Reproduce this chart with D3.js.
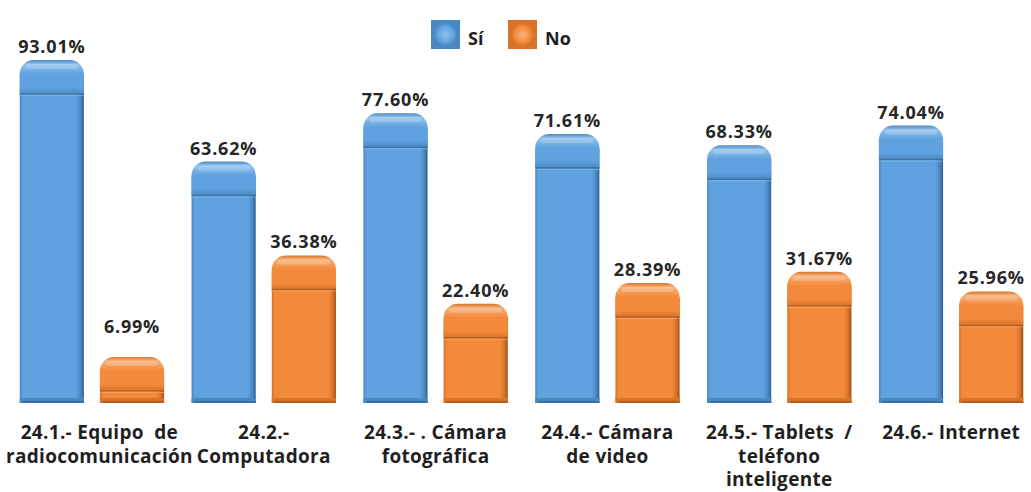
<!DOCTYPE html>
<html>
<head>
<meta charset="utf-8">
<script src="https://cdn.jsdelivr.net/npm/d3@7"></script>
<style>
  body { margin: 0; background: #fff; }
  svg { display: block; font-family: "Open Sans", "Noto Sans", sans-serif; }
</style>
</head>
<body>
<svg id="chart" width="1031" height="492"></svg>
<script>
// categories (each label split into its lines)
var categories = [
	["24.1.- Equipo  de", "radiocomunicación"],
	["24.2.-", "Computadora"],
	["24.3.- . Cámara", "fotográfica"],
	["24.4.- Cámara", "de video"],
	["24.5.- Tablets  /", "teléfono", "inteligente"],
	["24.6.- Internet"]
]
var seriesNames = ["Sí", "No"]
var siValues = [93.01, 63.62, 77.60, 71.61, 68.33, 74.04]
var noValues = [6.99, 36.38, 22.40, 28.39, 31.67, 25.96]

var colors = {
	"Sí": {main: "#5fa2df", light: "#93c3ee", dark: "#2f5f8e", mid: "#4a88c2"},
	"No": {main: "#f38a3b", light: "#f8b27a", dark: "#9a4f15", mid: "#d8732a"}
}

var svg = d3.select("#chart"),
	W = +svg.attr("width"),
	baseline = 403,
	depth = 22,
	capH = 34,
	radius = 14

var x0 = d3.scaleBand()
	.domain(d3.range(categories.length))
	.range([6, 1037])
	.paddingInner(0.16)
	.paddingOuter(0.08)

var x1 = d3.scaleBand()
	.domain(seriesNames)
	.range([0, x0.bandwidth()])
	.paddingInner(0.2)

var y = d3.scaleLinear()
	.domain([0, 100])
	.range([baseline - depth, baseline - depth - 345])

var defs = svg.append("defs")
seriesNames.forEach(function(s, i) {
	var c = colors[s]
	var body = defs.append("linearGradient").attr("id", "body" + i)
		.attr("x1", 0).attr("x2", 1).attr("y1", 0).attr("y2", 0)
	body.append("stop").attr("offset", "0%").attr("stop-color", c.mid)
	body.append("stop").attr("offset", "5%").attr("stop-color", c.main)
	body.append("stop").attr("offset", "88%").attr("stop-color", c.main)
	body.append("stop").attr("offset", "95%").attr("stop-color", c.mid)
	body.append("stop").attr("offset", "100%").attr("stop-color", c.dark)

	var cap = defs.append("linearGradient").attr("id", "cap" + i)
		.attr("x1", 0).attr("x2", 0).attr("y1", 0).attr("y2", 1)
	cap.append("stop").attr("offset", "0%").attr("stop-color", c.mid)
	cap.append("stop").attr("offset", "12%").attr("stop-color", c.light)
	cap.append("stop").attr("offset", "40%").attr("stop-color", c.main)
	cap.append("stop").attr("offset", "80%").attr("stop-color", c.main)
	cap.append("stop").attr("offset", "100%").attr("stop-color", c.mid)

	var leg = defs.append("radialGradient").attr("id", "leg" + i)
	leg.append("stop").attr("offset", "0%").attr("stop-color", c.light)
	leg.append("stop").attr("offset", "70%").attr("stop-color", c.main)
	leg.append("stop").attr("offset", "100%").attr("stop-color", c.mid)
})

function capPath(x, top, w, h, r) {
	return "M" + x + "," + (top + h) +
		"L" + x + "," + (top + r) +
		"A" + r + "," + r + " 0 0 1 " + (x + r) + "," + top +
		"L" + (x + w - r) + "," + top +
		"A" + r + "," + r + " 0 0 1 " + (x + w) + "," + (top + r) +
		"L" + (x + w) + "," + (top + h) + "Z"
}

var rows = categories.map(function(c, i) {
	return {i: i, vals: [siValues[i], noValues[i]]}
})

var groups = svg.selectAll("g.group")
	.data(rows)
	.enter().append("g")
	.attr("class", "group")
	.attr("transform", function(d) { return "translate(" + x0(d.i) + ",0)" })

groups.each(function(d) {
	var g = d3.select(this)
	d.vals.forEach(function(v, k) {
		var s = seriesNames[k],
			c = colors[s],
			bx = x1(s),
			w = x1.bandwidth(),
			top = y(v),
			h = baseline - top,
			ch = Math.min(capH, h - 6)

		// body
		g.append("rect")
			.attr("x", bx).attr("y", top + radius)
			.attr("width", w).attr("height", h - radius)
			.attr("fill", "url(#body" + k + ")")
		// bottom bevel
		g.append("rect")
			.attr("x", bx).attr("y", baseline - 5)
			.attr("width", w).attr("height", 5)
			.attr("fill", c.mid)
		g.append("rect")
			.attr("x", bx + 3).attr("y", baseline - 2)
			.attr("width", w - 3).attr("height", 2)
			.attr("fill", c.dark).attr("opacity", 0.6)
		// rounded cap
		g.append("path")
			.attr("d", capPath(bx, top, w, ch, radius))
			.attr("fill", "url(#cap" + k + ")")
		g.append("rect")
			.attr("x", bx + 6).attr("y", top + 4)
			.attr("width", w - 12).attr("height", 5)
			.attr("rx", 2.5)
			.attr("fill", "#fff").attr("opacity", 0.18)
		g.append("line")
			.attr("x1", bx).attr("x2", bx + w)
			.attr("y1", top + ch).attr("y2", top + ch)
			.attr("stroke", c.dark).attr("stroke-width", 1.4)
			.attr("opacity", 0.6)
		g.append("line")
			.attr("x1", bx).attr("x2", bx + w)
			.attr("y1", top + ch + 1.5).attr("y2", top + ch + 1.5)
			.attr("stroke", c.light).attr("stroke-width", 1)
			.attr("opacity", 0.6)

		// value label (kept clear of the category label area)
		g.append("text")
			.attr("x", bx + w / 2)
			.attr("y", Math.min(top - 7, baseline - 70))
			.attr("text-anchor", "middle")
			.attr("font-size", 18)
			.attr("font-weight", 700)
			.attr("letter-spacing", 0.8)
			.attr("fill", "#262626")
			.text(v.toFixed(2) + "%")
	})

	var lines = categories[d.i]
	var t = g.append("text")
		.attr("text-anchor", "middle")
		.attr("font-size", 19)
		.attr("font-weight", 700)
		.attr("letter-spacing", 0.3)
		.attr("fill", "#1f1f1f")
		.attr("xml:space", "preserve")
		.style("white-space", "pre")
	lines.forEach(function(line, j) {
		t.append("tspan")
			.attr("x", x0.bandwidth() / 2)
			.attr("y", 439 + j * 23.5)
			.text(line)
	})

	// keep the category label inside the picture
	var bb = t.node().getBBox(),
		left = x0(d.i) + bb.x,
		right = left + bb.width,
		shift = 0
	if (left < 6) shift = 6 - left
	if (right > W - 2) shift = W - 2 - right
	if (shift) t.attr("transform", "translate(" + shift + ",0)")
})

// legend
var legend = svg.append("g").attr("transform", "translate(431,20)")
var li = legend.selectAll("g")
	.data(seriesNames)
	.enter().append("g")
	.attr("transform", function(d, i) { return "translate(" + (i * 77) + ",0)" })
li.append("rect")
	.attr("width", 29).attr("height", 29)
	.attr("fill", function(d, i) { return colors[d].mid })
li.append("rect")
	.attr("x", 3).attr("y", 3)
	.attr("width", 23).attr("height", 23)
	.attr("fill", function(d, i) { return "url(#leg" + i + ")" })
li.append("text")
	.attr("x", 37).attr("y", 25)
	.attr("font-size", 18)
	.attr("font-weight", 700)
	.attr("fill", "#1f1f1f")
	.text(function(d) { return d })
</script>
</body>
</html>
